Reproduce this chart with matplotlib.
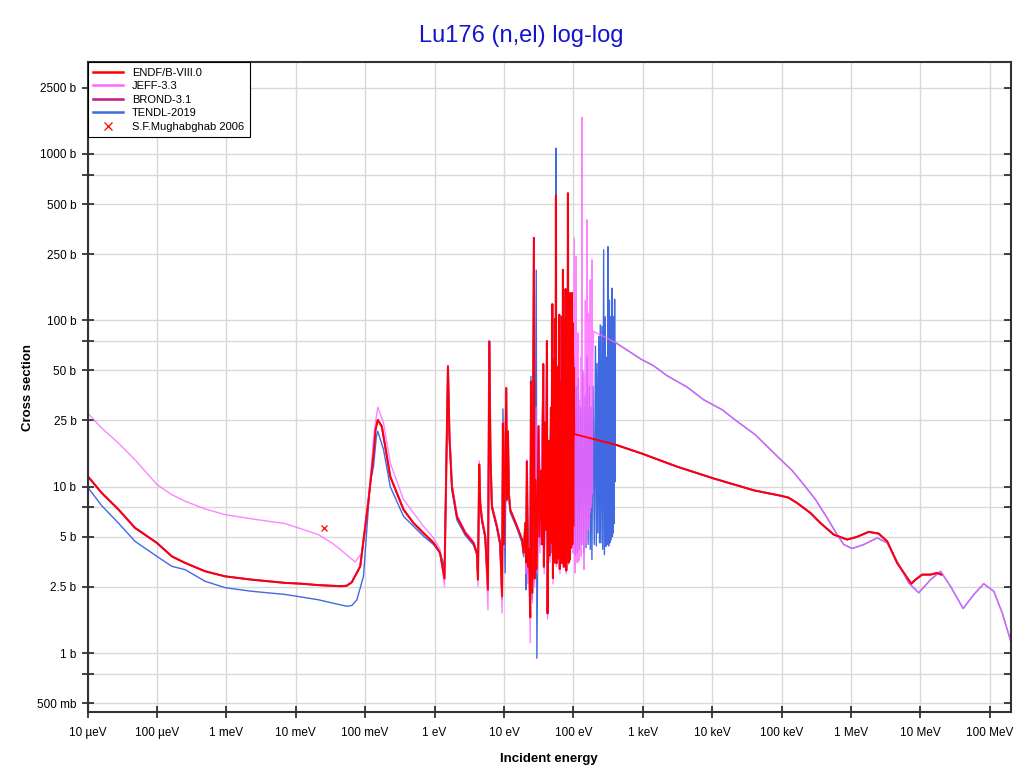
import numpy as np
import matplotlib
matplotlib.use("Agg")
import matplotlib.pyplot as plt
from matplotlib.ticker import FixedLocator, NullLocator, FixedFormatter
from matplotlib.lines import Line2D

plt.rcParams['font.family'] = ['Liberation Sans', 'DejaVu Sans']

# ---- data (energy in eV, cross section in barn) ----
# ENDF/B-VIII.0
endf_low_e = [1e-5, 1.6e-5, 2.8e-5, 4.84e-5, 1e-4, 1.64e-4, 2.55e-4, 4.94e-4, 9.6e-4, 2.33e-3,
              7.0e-3, 0.012, 0.0212, 0.046, 0.0545, 0.064, 0.085, 0.112, 0.132, 0.141,
              0.152, 0.174, 0.184, 0.23, 0.357, 0.497, 0.69, 0.97, 1.2, 1.39,
              1.56, 1.64, 1.78, 2.1, 2.77, 3.64, 4.07, 4.22, 4.40, 4.55,
              4.82, 5.37, 5.88, 6.14, 6.4, 6.7, 7.9, 8.8, 9.4, 9.66,
              10.0, 10.8, 11.0, 11.4, 11.8, 12.3, 15.4, 18.2, 19.2, 20.3,
              20.8, 21.4, 22.2, 23.0]
endf_low_xs = [11.6, 9.17, 7.28, 5.65, 4.59, 3.81, 3.48, 3.10, 2.89, 2.76,
               2.64, 2.61, 2.56, 2.52, 2.54, 2.66, 3.32, 8.36, 15.9, 22.0,
               25.2, 23.0, 20.0, 11.5, 7.28, 6.05, 5.27, 4.59, 4.0, 2.8,
               52.9, 20.0, 10.0, 6.6, 5.27, 4.59, 4.0, 2.76, 13.6, 8.0,
               6.34, 5.03, 2.40, 74.6, 15.0, 7.62, 5.78, 4.59, 2.19, 24.0,
               4.5, 39.2, 8.4, 21.5, 9.0, 7.28, 5.78, 4.81, 4.0, 6.05,
               3.5, 14.2, 3.3, 4.2]
endf_forest_e = [23.9, 24.5, 25.6, 27.0, 27.6, 28.6, 29.6, 31.5, 32.4, 34.1,
                 35.3, 36.8, 37.6, 38.9, 40.4, 41.6, 42.5, 44.4, 45.8, 47.5,
                 48.5, 49.7, 50.8, 51.9, 53.0, 54.3, 55.2, 56.1, 57.0, 58.0,
                 58.7, 59.3, 61.0, 62.7, 63.7, 64.7, 66.5, 68.4, 69.5, 70.8,
                 71.6, 72.3, 73.1, 74.0, 75.6, 77.3, 79.0, 80.8, 82.0, 83.5,
                 85.5, 86.8, 87.5, 88.3, 89.3, 91.3, 93.3, 95.4, 97.0, 98.6,
                 100.0, 101.5]
endf_forest_xs = [1.64, 42.8, 2.3, 313, 2.8, 11, 3.2, 23.1, 5.0, 12.5,
                  4.5, 54.6, 3.3, 24.3, 5.5, 75, 1.73, 18.8, 3.85, 29.8,
                  4.6, 125, 2.82, 58, 3.5, 102, 4.2, 562, 3.46, 20,
                  4.0, 52.6, 3.7, 108, 3.2, 42.8, 3.8, 105, 3.46, 201,
                  4.0, 60, 3.3, 102, 3.6, 154, 3.13, 47.3, 4.0, 580,
                  3.5, 70, 3.7, 146, 3.65, 102, 4.3, 146, 4.5, 96,
                  5.8, 52]
endf_smooth_e = [103, 400, 975, 3100, 10500, 40000, 96000, 125000, 167000, 260000,
                 362000, 564000, 879000, 1.22e6, 1.8e6, 2.51e6, 3.32e6, 4.62e6, 6.44e6, 7.36e6,
                 8.49e6, 1.06e7, 1.4e7, 1.75e7, 2.0e7]
endf_smooth_xs = [20.7, 17.9, 15.8, 13.2, 11.2, 9.5, 8.83, 8.6, 7.98, 6.95,
                  6.05, 5.15, 4.81, 4.99, 5.35, 5.22, 4.69, 3.48, 2.83, 2.61,
                  2.76, 2.96, 2.96, 3.03, 2.96]

# JEFF-3.3
jeff_low_e = [1e-5, 1.6e-5, 2.78e-5, 4.84e-5, 1e-4, 1.64e-4, 2.55e-4, 4.94e-4, 9.6e-4, 2.33e-3,
              7.0e-3, 0.0109, 0.0212, 0.0331, 0.0412, 0.0575, 0.0718, 0.0897, 0.1117, 0.132,
              0.14, 0.152, 0.184, 0.23, 0.357, 0.497, 0.693, 0.966, 1.2, 1.39,
              1.56, 1.64, 1.78, 2.1, 2.77, 3.64, 4.07, 4.22, 4.40, 4.55,
              4.82, 5.37, 5.88, 6.14, 6.4, 6.7, 7.9, 8.8, 9.4, 9.66,
              10.0, 10.8, 11.0, 11.4, 11.8, 12.3, 15.4, 18.2, 19.2, 20.3,
              20.8, 21.4, 22.2, 23.0]
jeff_low_xs = [27.7, 22.5, 18.3, 14.5, 10.3, 8.95, 8.17, 7.35, 6.79, 6.40,
               6.0, 5.65, 5.15, 4.59, 4.28, 3.81, 3.53, 4.0, 8.4, 19.1,
               24.0, 30.1, 24.2, 13.9, 8.36, 6.95, 5.78, 4.92, 4.19, 2.52,
               53.5, 21, 10.5, 6.8, 5.4, 4.7, 4.0, 2.52, 14.3, 8.2,
               6.5, 5.1, 1.82, 76, 15.5, 7.8, 5.9, 4.6, 1.74, 24.5,
               4.3, 39.5, 8.4, 21.5, 9, 7.3, 5.8, 4.8, 3.9, 6.1,
               3.0, 14.5, 2.6, 4.0]
jeff_forest_e = [23.9, 24.5, 25.6, 27.0, 27.6, 29.0, 30.5, 31.5, 33.0, 36.8,
                 38.0, 41.6, 42.5, 44.4, 46.0, 49.7, 51.0, 54.3, 55.5, 56.1,
                 57.0, 59.3, 61.0, 62.7, 64.0, 68.4, 70.0, 70.8, 72.0, 77.3,
                 79.0, 83.5, 85.0, 88.3, 90.0, 95.4, 97.0,
                 100, 103, 105, 107, 108, 110, 112, 114, 115, 116,
                 118, 120, 121, 123, 125, 128, 130, 133, 135, 137,
                 138, 140, 142, 145, 146, 149, 151, 154, 155, 157,
                 159, 162, 163, 166, 168, 171, 172, 175, 178, 181,
                 182, 185, 188, 191, 195]
jeff_forest_xs = [1.15, 40, 2.0, 280, 2.5, 30, 3.0, 22, 4.0, 52,
                  3.0, 72, 1.6, 18, 3.5, 120, 2.6, 98, 4.0, 540,
                  3.3, 50, 3.5, 104, 3.0, 100, 3.3, 190, 3.8, 148,
                  3.0, 560, 3.4, 140, 3.6, 140, 4.0,
                  4.0, 312, 3.03, 60, 3.5, 242, 4.0, 30, 3.48, 84,
                  4.5, 25, 3.6, 33, 4.0, 60, 3.8, 1660, 4.5, 20,
                  5.0, 48, 3.17, 30, 4.8, 132, 4.5, 40, 5.27, 402,
                  5.5, 60, 5.5, 110, 6.0, 50, 6.95, 175, 7.5, 70,
                  8.0, 231, 9.1, 60, 85.8]

# TENDL-2019
tendl_low_e = [1e-5, 1.6e-5, 2.78e-5, 4.84e-5, 1e-4, 1.64e-4, 2.55e-4, 4.94e-4, 9.6e-4, 2.33e-3,
               7.0e-3, 0.0212, 0.037, 0.0545, 0.0643, 0.076, 0.0946, 0.118, 0.132, 0.145,
               0.152, 0.184, 0.23, 0.357, 0.497, 0.693, 0.966, 1.2, 1.39,
               1.56, 1.64, 1.78, 2.1, 2.77, 3.64, 4.07, 4.22, 4.40, 4.55,
               4.82, 5.37, 5.88, 6.14, 6.4, 6.7, 7.9, 8.8, 9.4, 9.66,
               10.4, 10.8, 11.0, 11.4, 11.8, 12.3, 15.4, 18.2, 19.2, 20.3,
               20.8, 21.4, 22.2, 23.0]
tendl_low_xs = [9.96, 7.69, 6.05, 4.69, 3.81, 3.32, 3.17, 2.70, 2.47, 2.35,
                2.25, 2.09, 1.98, 1.91, 1.93, 2.09, 2.89, 10.5, 13.2, 20.0,
                21.5, 16.7, 10.0, 6.63, 5.78, 5.04, 4.49, 4.0, 3.3,
                51, 19, 9.5, 6.3, 5.1, 4.45, 3.9, 2.9, 13.0, 7.8,
                6.1, 4.9, 2.5, 72, 14.5, 7.4, 5.6, 4.4, 2.1, 29.3,
                3.03, 38, 8.2, 21, 8.8, 7.0, 5.6, 4.6, 3.8, 5.8,
                2.4, 14.0, 3.0, 4.0]
tendl_forest_e = [23.9, 24.5, 25.6, 27.0, 27.8, 29.2, 29.8, 31.5, 33.0, 36.8,
                  38.0, 41.6, 43.0, 47.5, 49.0, 50.5, 52.0, 54.3, 55.5, 56.1,
                  57.0, 59.3, 61.0, 64.7, 66.0, 68.4, 70.0, 72.3, 74.0, 77.3,
                  79.0, 81.0, 83.0, 86.0, 88.0, 91.0, 93.0, 96.0, 98.0,
                  100, 103, 106, 110, 114, 118, 122, 127, 131, 136,
                  141, 147, 152, 158, 163, 170, 175, 180, 185, 192,
                  200, 208, 214, 219, 225, 232, 238, 244, 250, 258,
                  265, 273, 280, 288, 295, 302, 308, 315, 322, 330,
                  335, 341, 350, 360, 365, 370, 375, 380, 386, 393, 397]
tendl_forest_xs = [2.4, 46, 2.1, 150, 3.0, 200, 0.93, 20, 4.5, 50,
                   3.5, 60, 2.5, 30, 4.0, 28, 4.0, 70, 4.0, 1083,
                   3.5, 45, 4.0, 40, 4.0, 60, 4.0, 110, 4.0, 80,
                   4.0, 45, 4.5, 120, 4.5, 70, 4.5, 87.5, 5.0,
                   5, 60, 3.9, 40, 4, 45, 4.2, 30, 4.5, 50,
                   4, 35, 4.3, 60, 4.5, 40, 4.2, 30, 3.64, 40,
                   4.5, 70, 4.4, 55, 5.27, 80, 4.6, 94, 4.59, 92,
                   4.2, 265, 3.9, 105, 4.38, 60, 4.5, 277, 4.4, 132,
                   4.6, 105, 4.8, 156, 5.0, 80, 5.27, 105, 6, 134, 10.7]

# smooth part above ~400 eV, common to JEFF-3.3 / TENDL-2019
hi_e = [402, 975, 1430, 2230, 4350, 7530, 13900, 22800, 41900, 81500,
        1.42e5, 2.08e5, 3.08e5, 4.53e5, 6.31e5, 7.85e5, 1.04e6, 1.53e6, 2.38e6, 3.32e6,
        4.62e6, 6.79e6, 9.46e6, 1.4e7, 1.95e7, 2.71e7, 4.13e7, 5.89e7, 8.18e7, 1.14e8,
        1.51e8, 2.0e8]
hi_xs = [73.6, 57.9, 53.3, 46.5, 39.7, 33.3, 29.0, 24.7, 20.5, 15.6,
         12.5, 10.3, 8.36, 6.49, 5.15, 4.49, 4.25, 4.49, 4.92, 4.59,
         3.56, 2.64, 2.30, 2.76, 3.10, 2.52, 1.85, 2.25, 2.61, 2.35,
         1.74, 1.18]

# S.F.Mughabghab 2006 (thermal point)
mugh_e = [0.0253]
mugh_xs = [5.65]

x_ticks = [1e-5, 1e-4, 1e-3, 1e-2, 1e-1, 1, 10, 100, 1e3, 1e4, 1e5, 1e6, 1e7, 1e8]
x_labels = ['10 µeV', '100 µeV', '1 meV', '10 meV', '100 meV', '1 eV', '10 eV',
            '100 eV', '1 keV', '10 keV', '100 keV', '1 MeV', '10 MeV', '100 MeV']
y_ticks = [0.5, 0.75, 1, 2.5, 5, 7.5, 10, 25, 50, 75, 100, 250, 500, 750, 1000, 2500]
y_labels = ['500 mb', '', '1 b', '2.5 b', '5 b', '', '10 b', '25 b', '50 b', '',
            '100 b', '250 b', '500 b', '', '1000 b', '2500 b']

endf_e = endf_low_e + endf_forest_e + endf_smooth_e
endf_xs = endf_low_xs + endf_forest_xs + endf_smooth_xs
brond_e, brond_xs = endf_e, endf_xs
jeff_e = jeff_low_e + jeff_forest_e + hi_e
jeff_xs = jeff_low_xs + jeff_forest_xs + hi_xs
tendl_e = tendl_low_e + tendl_forest_e + hi_e
tendl_xs = tendl_low_xs + tendl_forest_xs + hi_xs

c_endf, c_jeff, c_brond, c_tendl = '#ff0000', '#ff66ff', '#c71585', '#4169e1'

fig = plt.figure(figsize=(10.2, 7.73), dpi=100)
ax = fig.add_axes([0.0858, 0.0789, 0.9051, 0.8409])
ax.set_xscale('log')
ax.set_yscale('log')

ax.plot(tendl_e, tendl_xs, color=c_tendl, lw=1.0)
ax.plot(brond_e, brond_xs, color=c_brond, lw=1.5)
ax.plot(jeff_e, jeff_xs, color=c_jeff, lw=1.0, alpha=0.8)
ax.plot(endf_e, endf_xs, color=c_endf, lw=1.25)
ax.plot(mugh_e, mugh_xs, 'x', color='red', ms=5, mew=0.9)

ax.set_xlim(1e-5, 2e8)
ax.set_ylim(0.442, 3570)

ax.xaxis.set_major_locator(FixedLocator(x_ticks))
ax.xaxis.set_major_formatter(FixedFormatter(x_labels))
ax.xaxis.set_minor_locator(NullLocator())
ax.yaxis.set_major_locator(FixedLocator(y_ticks))
ax.yaxis.set_major_formatter(FixedFormatter(y_labels))
ax.yaxis.set_minor_locator(NullLocator())

ax.grid(True, color='#d9d9d9', lw=1)
ax.set_axisbelow(True)
ax.tick_params(direction='inout', length=8, width=1.2, color='#222222',
               labelsize=8.5, pad=4)
ax.tick_params(axis='x', pad=7)
for s in ax.spines.values():
    s.set_color('#333333')
    s.set_linewidth(1.5)

# inward ticks on the right edge
ax2 = ax.twinx()
ax2.set_yscale('log')
ax2.set_ylim(ax.get_ylim())
ax2.yaxis.set_major_locator(FixedLocator(y_ticks))
ax2.yaxis.set_minor_locator(NullLocator())
ax2.tick_params(direction='in', length=5, width=1.2, color='#222222', labelright=False)
for s in ax2.spines.values():
    s.set_visible(False)

ax.set_xlabel('Incident energy', fontsize=9.5, fontweight='bold', labelpad=10)
ax.set_ylabel('Cross section', fontsize=9.5, fontweight='bold', labelpad=2)
fig.text(0.511, 0.954, 'Lu176 (n,el) log-log', fontsize=17, color='#1414cc',
         ha='center', va='center')

handles = [Line2D([], [], color=c_endf, lw=1.8),
           Line2D([], [], color=c_jeff, lw=1.8),
           Line2D([], [], color=c_brond, lw=1.8),
           Line2D([], [], color=c_tendl, lw=1.8),
           Line2D([], [], color='red', marker='x', ls='none', ms=6, mew=0.9)]
names = ['ENDF/B-VIII.0', 'JEFF-3.3', 'BROND-3.1', 'TENDL-2019', 'S.F.Mughabghab 2006']
leg = ax.legend(handles, names, loc='upper left', bbox_to_anchor=(0, 1),
                borderaxespad=0, fontsize=8.0, handlelength=2.7, labelspacing=0.32,
                fancybox=False, framealpha=1, edgecolor='black', borderpad=0.5)
leg.get_frame().set_linewidth(0.8)
leg.set_zorder(10)

fig.savefig('out.png', dpi=100)
